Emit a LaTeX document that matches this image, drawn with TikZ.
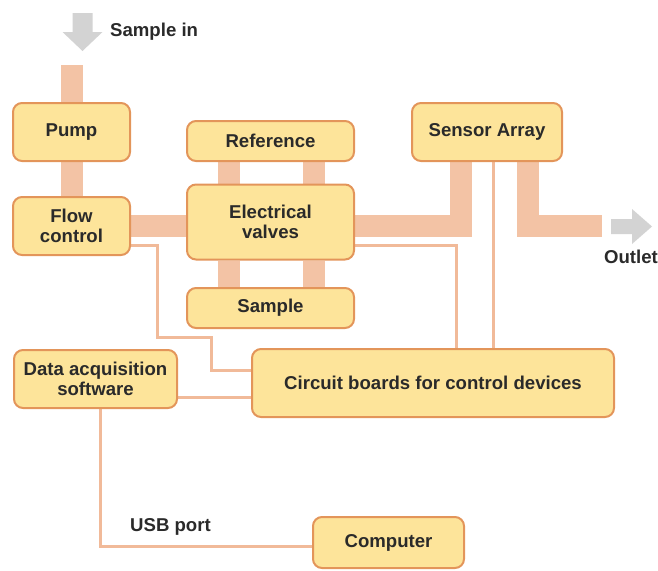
\documentclass[tikz,border=0pt]{standalone}
\usepackage{fontspec}
\setmainfont{Liberation Sans}
\pgfdeclarelayer{background}
\pgfsetlayers{background,main}
\definecolor{boxfill}{HTML}{FDE49A}
\definecolor{boxedge}{HTML}{E3955A}
\definecolor{pipecol}{HTML}{F3C3A5}
\definecolor{wirecol}{HTML}{F1BA99}
\definecolor{arrowgray}{HTML}{D3D3D3}
\definecolor{txt}{HTML}{2A2A2A}
\tikzset{
  box/.style={draw=boxedge, fill=boxfill, line width=2pt, rounded corners=9pt,
    align=center, inner sep=0pt, text=txt,
    font=\fontsize{18.6}{19.5}\selectfont\bfseries},
  pipe/.style={draw=pipecol, line width=22pt, line cap=butt, line join=miter},
  wire/.style={draw=wirecol, line width=3pt, line join=miter},
  label/.style={text=txt, font=\fontsize{18.6}{19.5}\selectfont\bfseries, inner sep=0pt},
  grayarrow/.style={fill=arrowgray}
}
\begin{document}
\begin{tikzpicture}[x=1pt,y=-1pt]
\useasboundingbox (0,0) rectangle (658,570);
% nodes
\node[box, minimum width=117pt, minimum height=58pt] (pump) at (71.5,132) {Pump};
\node[box, minimum width=117pt, minimum height=58pt] (flow) at (71.5,226) {Flow\\control};
\node[box, minimum width=167pt, minimum height=40pt] (ref) at (270.5,141) {Reference};
\node[box, minimum width=167pt, minimum height=75pt] (valves) at (270.5,222) {Electrical\\valves};
\node[box, minimum width=167pt, minimum height=40pt] (sample) at (270.5,308) {Sample};
\node[box, minimum width=150pt, minimum height=58pt] (sensor) at (487,132) {Sensor Array};
\node[box, minimum width=163pt, minimum height=58pt] (daq) at (95.5,379) {Data acquisition\\software};
\node[box, minimum width=362pt, minimum height=68pt] (circuit) at (433,383) {Circuit boards for control devices};
\node[box, minimum width=151pt, minimum height=51pt] (computer) at (388.5,542.5) {Computer};
% labels
\node[label, anchor=west] (samplein) at (110,32) {Sample in};
\node[label] (outlet) at (631,257) {Outlet};
\node[label] (usb) at (170.5,527) {USB port};
% coordinates
\coordinate (pipein) at (71.5,65);
\coordinate (outend) at (602,225.5);
% arrows
\fill[grayarrow] (72.5,13) -- (92.5,13) -- (92.5,32) -- (102.5,32) -- (82.5,51) -- (62.5,32) -- (72.5,32) -- cycle;
\fill[grayarrow] (611,219) -- (632,219) -- (632,209) -- (652,226.5) -- (632,244) -- (632,234) -- (611,234) -- cycle;
\begin{pgfonlayer}{background}
% pipes
\draw[pipe] (pipein) -- (pump.north);
\draw[pipe] (pump.south) -- (flow.north);
\draw[pipe] (flow.east |- 0,225.5) -- (valves.west |- 0,225.5);
\draw[pipe] ([xshift=-41.5pt]ref.south) -- ([xshift=-41.5pt]valves.north);
\draw[pipe] ([xshift=43pt]ref.south) -- ([xshift=43pt]valves.north);
\draw[pipe] ([xshift=-41.5pt]valves.south) -- ([xshift=-41.5pt]sample.north);
\draw[pipe] ([xshift=43pt]valves.south) -- ([xshift=43pt]sample.north);
\draw[pipe] (valves.east |- 0,225.5) -- (460.5,225.5) -- ([xshift=-26.5pt]sensor.south);
\draw[pipe] ([xshift=41pt]sensor.south) -- (528,225.5) -- (outend);
% wires
\draw[wire] (flow.east |- 0,245) -- (157,245) -- (157,337) -- (211,337) -- (211,370) -- (circuit.west |- 0,370);
\draw[wire] (valves.east |- 0,245) -- (456.5,245) -- (circuit.north -| 456.5,0);
\draw[wire] ([xshift=6pt]sensor.south) -- (circuit.north -| 493,0);
\draw[wire] (daq.east |- 0,397) -- (circuit.west |- 0,397);
\draw[wire] (daq.south -| 100,0) -- (100,546) -- (computer.west |- 0,546);
\end{pgfonlayer}
\end{tikzpicture}
\end{document}
